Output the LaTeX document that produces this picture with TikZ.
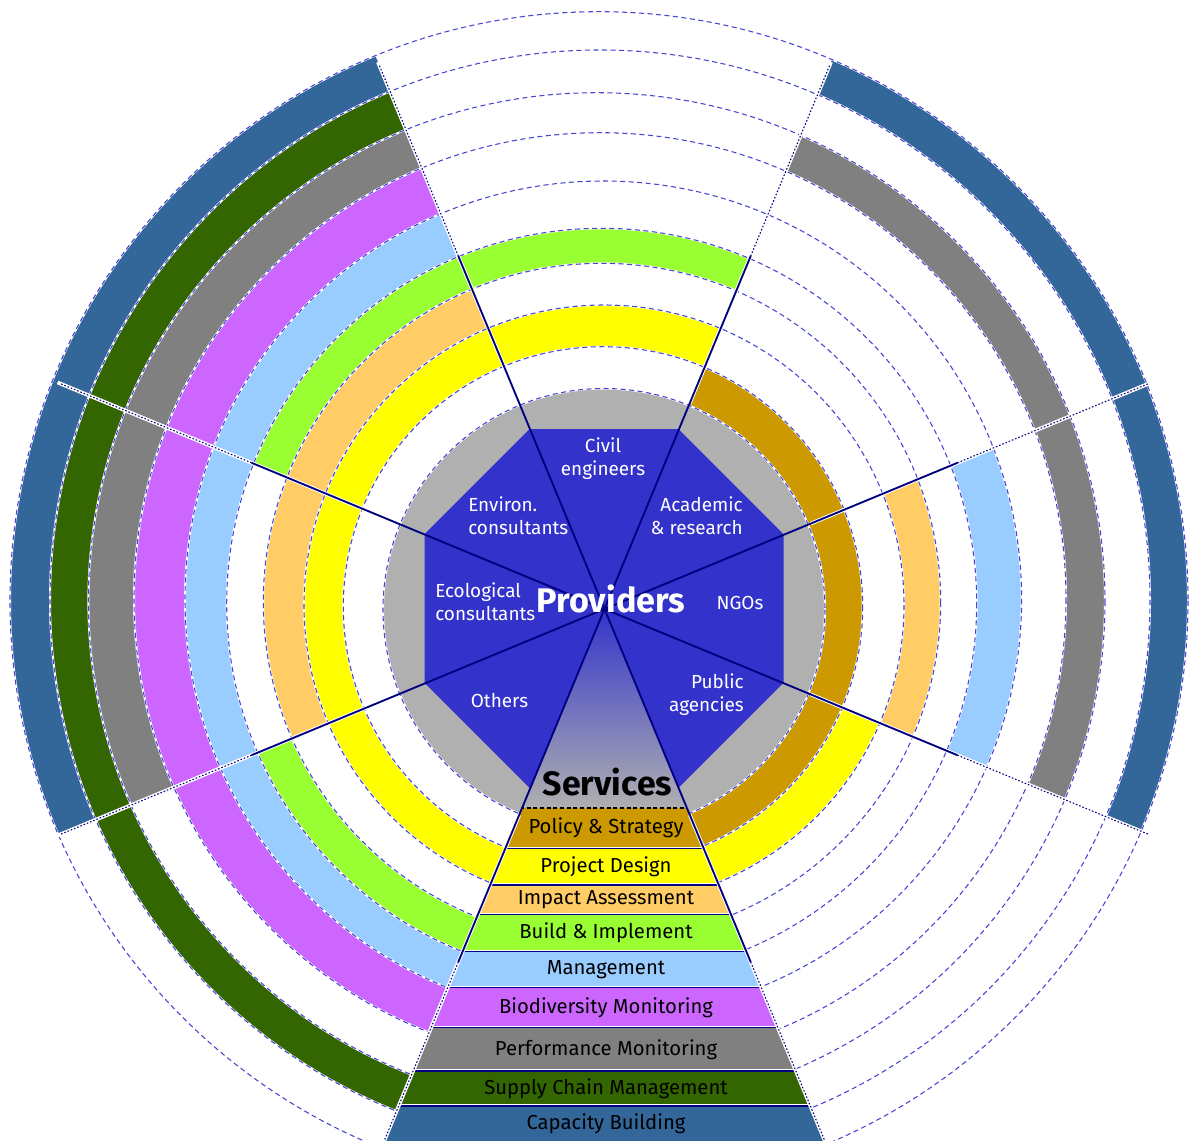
\documentclass[tikz,border=0pt]{standalone}
\usepackage{fontspec}
\setmainfont{Fira Sans}
\usetikzlibrary{calc}
\definecolor{octblue}{HTML}{3333CC}
\definecolor{diskgray}{HTML}{B0B0B0}
\definecolor{ring1}{HTML}{CC9900}
\definecolor{ring2}{HTML}{FFFF00}
\definecolor{ring3}{HTML}{FFCC66}
\definecolor{ring4}{HTML}{99FF33}
\definecolor{ring5}{HTML}{99CCFF}
\definecolor{ring6}{HTML}{CC66FF}
\definecolor{ring7}{HTML}{808080}
\definecolor{ring8}{HTML}{336600}
\definecolor{ring9}{HTML}{336699}
\definecolor{raynavy}{HTML}{000080}
\definecolor{dashblue}{HTML}{4646D2}
\expandafter\def\csname rr0\endcsname{221}
\expandafter\def\csname rr1\endcsname{259.7}
\expandafter\def\csname rr2\endcsname{300}
\expandafter\def\csname rr3\endcsname{338.7}
\expandafter\def\csname rr4\endcsname{375}
\expandafter\def\csname rr5\endcsname{418.3}
\expandafter\def\csname rr6\endcsname{466}
\expandafter\def\csname rr7\endcsname{508.3}
\expandafter\def\csname rr8\endcsname{550}
\expandafter\def\csname rr9\endcsname{589}
\newcommand{\ringfill}[3]{%
  \begin{scope}
    \clip (C) -- ($(C)+(#2:820)$) -- ($(C)+(#3:820)$) -- cycle;
    \pgfmathtruncatemacro{\myprevk}{#1-1}%
    \fill[ring#1, even odd rule] (b#1) circle ({\csname rr#1\endcsname})
      (b\myprevk) circle ({\csname rr\myprevk\endcsname});
  \end{scope}}
\begin{document}
\begin{tikzpicture}[x=0.75pt,y=-0.75pt,
  lbl/.style={text=white, inner sep=0pt, font=\fontsize{14.2}{17.2}\selectfont},
  bandtxt/.style={text=black, inner sep=0pt, font=\fontsize{15.2}{17}\selectfont},
  circunder/.style={white, line width=1.5pt},
  circdash/.style={dashblue, line width=0.8pt, dash pattern=on 3.8pt off 2.6pt},
  rayunder/.style={white, line width=2.8pt},
  raysolid/.style={raynavy, line width=1.4pt},
  raydot/.style={raynavy, line width=0.8pt, dash pattern=on 1.2pt off 1.4pt},
  bandsep/.style={raynavy, line width=0.8pt}]
\useasboundingbox (0,0) rectangle (1190,1140);
\clip (0,0) rectangle (1190,1140);
\fill[white] (0,0) rectangle (1190,1140);
\coordinate (C) at (604.5,609);
\coordinate (O) at (604,608.5);
\coordinate (b0) at (604,609.5);
\coordinate (b1) at (603,606.4);
\coordinate (b2) at (604,605);
\coordinate (b3) at (602,602);
\coordinate (b4) at (601.7,603.3);
\coordinate (b5) at (603.3,599.3);
\coordinate (b6) at (600,598.7);
\coordinate (b7) at (596.7,601);
\coordinate (b8) at (600,600);
\coordinate (b9) at (599,600.7);
% ring segments per sector
\foreach \k in {2,4} {\ringfill{\k}{-112.5}{-67.5}}
\foreach \k in {1,7,9} {\ringfill{\k}{-67.5}{-22.5}}
\foreach \k in {1,3,5,7,9} {\ringfill{\k}{-22.5}{22.5}}
\foreach \k in {1,2} {\ringfill{\k}{22.5}{67.5}}
\foreach \k in {2,4,5,6,8} {\ringfill{\k}{112.5}{157.5}}
\foreach \k in {2,3,5,6,7,8,9} {\ringfill{\k}{157.5}{202.5}}
\foreach \k in {2,3,4,5,6,7,8,9} {\ringfill{\k}{202.5}{247.5}}
% gray disk
\fill[diskgray] (b0) circle ({\csname rr0\endcsname});
% dashed circles
\foreach \k in {0,...,9} {
  \draw[circunder] (b\k) circle ({\csname rr\k\endcsname});
  \draw[circdash] (b\k) circle ({\csname rr\k\endcsname});
}
% octagon
\fill[octblue] ($(O)+(22.5:194.3)$) \foreach \a in {67.5,112.5,157.5,202.5,247.5,292.5,337.5} { -- ($(O)+(\a:194.3)$) } -- cycle;
% services triangle
\shade[top color=octblue, bottom color=diskgray] (C) -- (522.1,808) -- (686.9,808) -- cycle;
% service bands
\begin{scope}
  \clip (C) -- ($(C)+(67.5:900)$) -- ($(C)+(112.5:900)$) -- cycle;
  \fill[ring1] (300,808) rectangle (900,848.3);
  \fill[ring2] (300,848.3) rectangle (900,885);
  \fill[ring3] (300,885) rectangle (900,914.3);
  \fill[ring4] (300,914.3) rectangle (900,951.7);
  \fill[ring5] (300,951.7) rectangle (900,987.3);
  \fill[ring6] (300,987.3) rectangle (900,1027.7);
  \fill[ring7] (300,1027.7) rectangle (900,1071);
  \fill[ring8] (300,1071) rectangle (900,1106);
  \fill[ring9] (300,1106) rectangle (900,1150);
  \foreach \yy in {848.3,885,914.3,951.7,987.3,1027.7,1071,1106} {
    \draw[white, line width=0.8pt] (300,\yy-1.2) -- (900,\yy-1.2);
    \draw[bandsep] (300,\yy) -- (900,\yy);
  }
  \draw[black, line width=0.8pt, dash pattern=on 3pt off 2pt] (300,808) -- (900,808);
\end{scope}
% rays
\foreach \a in {-157.5,-112.5,-67.5,-22.5,22.5,67.5,112.5,157.5} {
  \draw[rayunder] ($(C)+(\a:223)$) -- ($(C)+(\a:592)$);
  \draw[raysolid] (C) -- ($(C)+(\a:382)$);
  \draw[raydot] ($(C)+(\a:382)$) -- ($(C)+(\a:590)$);
}
% provider labels
\node[lbl, align=center] (civil) at (603,458.5) {Civil\\engineers};
\node[lbl, align=left, anchor=west] (environ) at (468,516) {Environ.\\consultants};
\node[lbl, align=right, anchor=east] (academic) at (743,515.5) {Academic\\\& research};
\node[lbl, align=left, anchor=west] (ecological) at (435,601.5) {Ecological\\consultants};
\node[lbl] (ngos) at (740,602.5) {NGOs};
\node[lbl] (others) at (499.5,700.5) {Others};
\node[lbl, align=right, anchor=east] (public) at (744,694.5) {Public\\agencies};
\node[text=white, inner sep=0pt, font=\fontsize{25.6}{27}\selectfont\bfseries] (providers) at (611,599) {Providers};
\node[text=black, inner sep=0pt, font=\fontsize{25.4}{27}\selectfont\bfseries] (services) at (607.5,782) {Services};
% service labels
\node[bandtxt] (policy) at (606,828) {Policy \& Strategy};
\node[bandtxt] (design) at (606,866.7) {Project Design};
\node[bandtxt] (impact) at (606,899.7) {Impact Assessment};
\node[bandtxt] (build) at (606,933) {Build \& Implement};
\node[bandtxt] (manage) at (606,969.5) {Management};
\node[bandtxt] (bio) at (606,1007.5) {Biodiversity Monitoring};
\node[bandtxt] (perf) at (606,1049.4) {Performance Monitoring};
\node[bandtxt] (supply) at (606,1088.5) {Supply Chain Management};
\node[bandtxt] (capacity) at (606,1124) {Capacity Building};
\end{tikzpicture}
\end{document}
